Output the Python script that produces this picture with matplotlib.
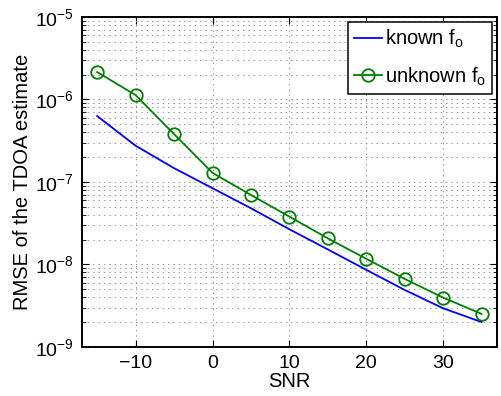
import matplotlib
matplotlib.use('Agg')
import matplotlib.pyplot as plt
import numpy as np

snr = [-15, -10, -5, 0, 5, 10, 15, 20, 25, 30, 35]
rmse_known = [6.3e-7, 2.75e-7, 1.47e-7, 8.4e-8, 4.8e-8, 2.67e-8, 1.52e-8, 8.6e-9, 4.9e-9, 2.94e-9, 2.0e-9]
rmse_unknown = [2.15e-6, 1.13e-6, 3.8e-7, 1.29e-7, 6.95e-8, 3.8e-8, 2.07e-8, 1.17e-8, 6.67e-9, 3.96e-9, 2.51e-9]
xtick_vals = [-10, 0, 10, 20, 30]

plt.rcParams['font.family'] = ['Liberation Sans', 'DejaVu Sans']
plt.rcParams['mathtext.fontset'] = 'custom'
plt.rcParams['mathtext.rm'] = 'Liberation Sans'
plt.rcParams['mathtext.it'] = 'Liberation Sans'

fig = plt.figure(figsize=(5.02, 3.96), dpi=100)
ax = fig.add_axes([0.163, 0.124, 0.827, 0.833])

ax.semilogy(snr, rmse_known, '-', color='#0000ff', lw=1.3, label=r'known f$_\mathrm{o}$')
ax.semilogy(snr, rmse_unknown, '-o', color='#008000', lw=1.3, ms=9,
            mfc='none', mew=1.3, label=r'unknown f$_\mathrm{o}$')

ax.set_xlim(-17, 37)
ax.set_ylim(1e-9, 1e-5)
ax.set_xticks(xtick_vals)
ax.set_xticklabels(['\u221210', '0', '10', '20', '30'])
ax.yaxis.set_minor_formatter(matplotlib.ticker.NullFormatter())

ax.grid(True, which='major', ls=(0, (1.5, 4)), color='#999999', lw=0.7)
ax.grid(True, which='minor', axis='y', ls=(0, (1.5, 4)), color='#999999', lw=0.7)
ax.tick_params(which='both', direction='in', top=True, right=True, labelsize=14, pad=6)
ax.tick_params(which='major', length=5)
ax.tick_params(which='minor', length=3)
for s in ax.spines.values():
    s.set_linewidth(1.4)

ax.set_xlabel('SNR', fontsize=14.5, labelpad=0)
ax.set_ylabel('RMSE of the TDOA estimate', fontsize=14.5, labelpad=2)

leg = ax.legend(loc='upper right', fontsize=14.5, fancybox=False, edgecolor='black',
                framealpha=1, handlelength=1.35, handletextpad=0.15, borderpad=0.3,
                labelspacing=0.75, borderaxespad=0.25)
leg.get_frame().set_linewidth(1.1)

fig.savefig('out.png', dpi=100)
